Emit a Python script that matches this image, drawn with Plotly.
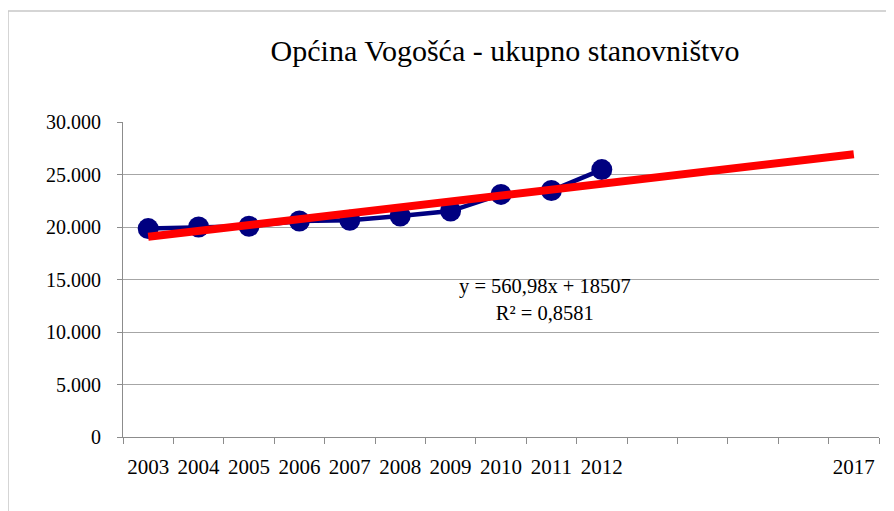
import plotly.graph_objects as go

# ---- data ----
categories = ["2003", "2004", "2005", "2006", "2007", "2008", "2009", "2010",
              "2011", "2012", "2013", "2014", "2015", "2016", "2017"]
tick_labels = ["2003", "2004", "2005", "2006", "2007", "2008", "2009", "2010",
               "2011", "2012", "", "", "", "", "2017"]
population = [19850, 20000, 20070, 20570, 20640, 21050, 21520, 23100, 23480, 25470]
trend_slope = 560.98
trend_intercept = 18507
r_squared = 0.8581

x_idx = list(range(1, len(categories) + 1))
x_data = x_idx[:len(population)]
trend_x = [x_idx[0], x_idx[-1]]
trend_y = [trend_slope * v + trend_intercept for v in trend_x]

FONT = "Liberation Serif, Times New Roman, serif"
OFF = 8  # default page body margin
W, H = 894 - OFF, 511 - OFF

fig = go.Figure()
fig.add_trace(go.Scatter(
    x=x_data, y=population, mode="lines+markers",
    line=dict(color="#000080", width=4.5),
    marker=dict(color="#000080", size=21),
    showlegend=False, hoverinfo="skip"))
fig.add_trace(go.Scatter(
    x=trend_x, y=trend_y, mode="lines",
    line=dict(color="#ff0000", width=8),
    showlegend=False, hoverinfo="skip"))

eq = "y = {}x + {}<br>R² = {}".format(
    f"{trend_slope:.2f}".replace(".", ","), trend_intercept,
    f"{r_squared:.4f}".replace(".", ","))
fig.add_annotation(x=8.87, y=13050, xref="x", yref="y", text=eq,
                   showarrow=False, borderpad=0,
                   font=dict(family=FONT, size=20.5, color="#000000"),
                   align="center")

fig.add_shape(type="rect", xref="paper", yref="paper",
              x0=(8 - 123) / 756, x1=1.05, y0=-0.3, y1=(437 - 11) / 315,
              line=dict(color="#c8c8c8", width=1.5), fillcolor="rgba(0,0,0,0)")

fig.update_layout(
    width=W, height=H,
    margin=dict(l=123 - OFF, r=15, t=122 - OFF, b=74),
    paper_bgcolor="white", plot_bgcolor="white",
    separators=",.",
    font=dict(family=FONT, size=20, color="#000000"),
    title=dict(text="Općina Vogošća - ukupno stanovništvo",
               x=(505 - OFF) / W, xref="container", xanchor="center",
               y=1 - (50 - OFF) / H, yref="container", yanchor="middle",
               font=dict(family=FONT, size=30, color="#000000")),
    xaxis=dict(range=[0.5, len(categories) + 0.5],
               tickvals=x_idx, ticktext=tick_labels,
               ticks="", showgrid=False, zeroline=False,
               showline=True, linecolor="#8c8c8c", linewidth=1,
               ticklabelstandoff=11,
               tickfont=dict(family=FONT, size=21),
               minor=dict(tick0=0.5, dtick=1, ticks="outside", ticklen=6,
                          tickcolor="#8c8c8c", showgrid=False)),
    yaxis=dict(range=[0, 30000], dtick=5000, tickformat=",d",
               ticks="outside", ticklen=5, tickcolor="#8c8c8c",
               showgrid=True, gridcolor="#a6a6a6", gridwidth=1,
               zeroline=False, showline=True, linecolor="#8c8c8c", linewidth=1,
               ticklabelstandoff=12,
               tickfont=dict(family=FONT, size=20)),
)

fig.write_html("out.html")
